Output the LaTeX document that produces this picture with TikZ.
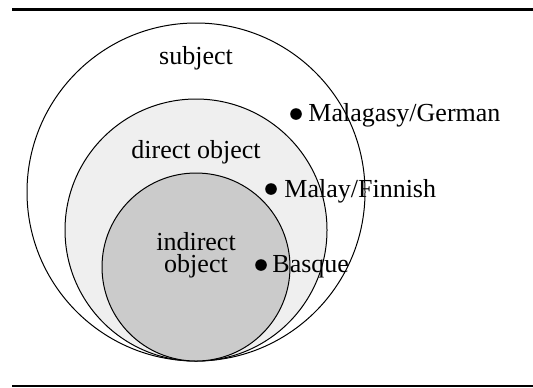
\documentclass[tikz,border=0pt]{standalone}
\usepackage{fontspec}
\setmainfont{Liberation Serif}
\definecolor{dofill}{HTML}{EFEFEF}
\definecolor{iofill}{HTML}{CBCBCB}
\begin{document}
\begin{tikzpicture}[x=0.5pt,y=-0.5pt,
  ring/.style={circle,draw=black,line width=0.5pt,inner sep=0pt},
  lbl/.style={inner sep=0pt,font=\fontsize{13pt}{15pt}\selectfont},
  langdot/.style={circle,fill=black,inner sep=0pt,minimum size=5.8pt},
  lang/.style={lbl,anchor=base west}]
\useasboundingbox (0,0) rectangle (533,387);

% horizontal rules above and below
\coordinate (tl) at (12,9);    \coordinate (tr) at (533,9);
\coordinate (bl) at (12,386);  \coordinate (br) at (533,386);
\draw[line width=1.5pt] (tl) -- (tr);
\draw[line width=0.8pt] (bl) -- (br);

% nested grammatical-relation circles, all touching at the bottom
\node[ring,minimum size=169pt] (subj) at (196,192) {};
\node[ring,fill=dofill,minimum size=131pt] (dobj) at (196,230) {};
\node[ring,fill=iofill,minimum size=94pt] (iobj) at (196,267) {};

% circle labels
\node[lbl,anchor=base] (subjlbl) at (196,64) {subject};
\node[lbl,anchor=base] (dobjlbl) at (196,158) {direct object};
\node[lbl,anchor=base] (iobjlblA) at (196,250) {indirect};
\node[lbl,anchor=base] (iobjlblB) at (196,272) {object};

% languages
\node[langdot] (mg) at (296,114) {};
\node[lang] (mgt) at (308,121) {Malagasy/German};
\node[langdot] (mf) at (271,189) {};
\node[lang] (mft) at (284,197) {Malay/Finnish};
\node[langdot] (bq) at (261,265) {};
\node[lang] (bqt) at (272,272) {Basque};
\end{tikzpicture}
\end{document}
